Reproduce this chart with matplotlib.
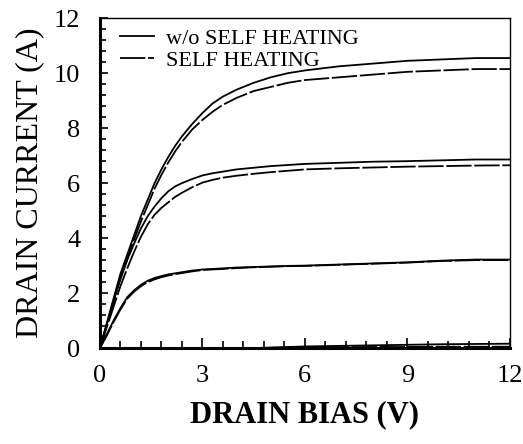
import matplotlib
matplotlib.use("Agg")
import matplotlib.pyplot as plt
from matplotlib.ticker import MultipleLocator

plt.rcParams['font.family'] = ['Liberation Serif', 'DejaVu Serif']

# Выходные характеристики: ток стока от напряжения стока, три затворных смещения
vd = [0.0, 0.2, 0.4, 0.6, 0.8, 1.0, 1.2, 1.4, 1.6, 1.8, 2.0, 2.2, 2.4, 2.7,
      3.0, 3.3, 3.6, 4.0, 4.5, 5.0, 5.5, 6.0, 7.0, 8.0, 9.0, 10.0, 11.0, 12.0]

id_high_iso = [0.0, 0.9, 1.8, 2.7, 3.4, 4.1, 4.8, 5.4, 6.0, 6.5, 6.95, 7.35, 7.7, 8.15,
               8.55, 8.9, 9.15, 9.4, 9.65, 9.85, 10.0, 10.1, 10.25, 10.35, 10.45, 10.5, 10.55, 10.55]
id_high_sh = [0.0, 0.85, 1.7, 2.55, 3.25, 3.95, 4.6, 5.2, 5.8, 6.3, 6.75, 7.15, 7.5, 7.95,
              8.3, 8.6, 8.85, 9.1, 9.35, 9.5, 9.65, 9.75, 9.85, 9.95, 10.05, 10.1, 10.15, 10.15]

id_mid_iso = [0.0, 0.85, 1.7, 2.5, 3.2, 3.8, 4.35, 4.8, 5.15, 5.45, 5.7, 5.88, 6.0, 6.15,
              6.28, 6.36, 6.42, 6.5, 6.56, 6.62, 6.66, 6.7, 6.74, 6.78, 6.8, 6.83, 6.86, 6.86]
id_mid_sh = [0.0, 0.75, 1.5, 2.25, 2.9, 3.5, 4.05, 4.5, 4.85, 5.1, 5.3, 5.5, 5.65, 5.85,
             6.02, 6.12, 6.2, 6.27, 6.34, 6.4, 6.45, 6.5, 6.54, 6.57, 6.6, 6.62, 6.64, 6.65]

id_low_iso = [0.0, 0.5, 1.0, 1.45, 1.85, 2.1, 2.3, 2.45, 2.55, 2.62, 2.68, 2.72, 2.76, 2.82,
              2.86, 2.88, 2.9, 2.93, 2.95, 2.97, 2.99, 3.0, 3.04, 3.08, 3.12, 3.18, 3.22, 3.22]
id_low_sh = [0.0, 0.45, 0.95, 1.4, 1.8, 2.05, 2.25, 2.4, 2.5, 2.58, 2.64, 2.69, 2.73, 2.79,
             2.84, 2.86, 2.88, 2.91, 2.94, 2.96, 2.98, 2.99, 3.03, 3.07, 3.11, 3.17, 3.2, 3.2]

id_off_iso = [0.0] * 19 + [0.02, 0.04, 0.06, 0.08, 0.1, 0.12, 0.14, 0.15, 0.16]
id_off_sh = [0.0] * 19 + [0.01, 0.02, 0.03, 0.03, 0.04, 0.04, 0.05, 0.05, 0.05]

fig = plt.figure(figsize=(5.23, 4.44), dpi=100)
ax = fig.add_axes([0.191, 0.216, 0.784, 0.743])

lw = 1.3
iso_style = dict(color='black', linewidth=lw, linestyle='-')
sh_style = dict(color='black', linewidth=lw, linestyle=(0, (14, 1.5)))

ax.plot(vd, id_high_iso, label='w/o SELF HEATING', **iso_style)
ax.plot(vd, id_high_sh, label='SELF HEATING', **sh_style)
ax.plot(vd, id_mid_iso, **iso_style)
ax.plot(vd, id_mid_sh, **sh_style)
ax.plot(vd, id_low_iso, **iso_style)
ax.plot(vd, id_low_sh, **sh_style)
ax.plot(vd, id_off_iso, **iso_style)
ax.plot(vd, id_off_sh, **sh_style)

ax.set_xlim(0, 12)
ax.set_ylim(0, 12)
ax.xaxis.set_major_locator(MultipleLocator(3))
ax.xaxis.set_minor_locator(MultipleLocator(0.6))
ax.yaxis.set_major_locator(MultipleLocator(2))
ax.yaxis.set_minor_locator(MultipleLocator(0.4))

ax.tick_params(which='both', direction='in', top=False, right=False,
               labelsize=19, width=1.2)
ax.tick_params(axis='x', which='major', length=7, pad=12)
ax.tick_params(axis='x', which='minor', length=5)
ax.tick_params(axis='y', which='major', length=6, pad=14)
ax.tick_params(axis='y', which='minor', length=4)

for side in ('left', 'bottom'):
    ax.spines[side].set_linewidth(2.2)
for side in ('top', 'right'):
    ax.spines[side].set_linewidth(1.0)

ax.set_xlabel('DRAIN BIAS (V)', fontsize=22, fontweight='bold', labelpad=10)
ax.set_ylabel('DRAIN CURRENT (A)', fontsize=23, labelpad=7)

ax.legend(loc='upper left', frameon=False, fontsize=16, handlelength=1.5,
          handletextpad=0.55, labelspacing=0.08, borderaxespad=0.0,
          borderpad=0.0, bbox_to_anchor=(0.05, 0.97))

fig.savefig('out.png', dpi=100)
